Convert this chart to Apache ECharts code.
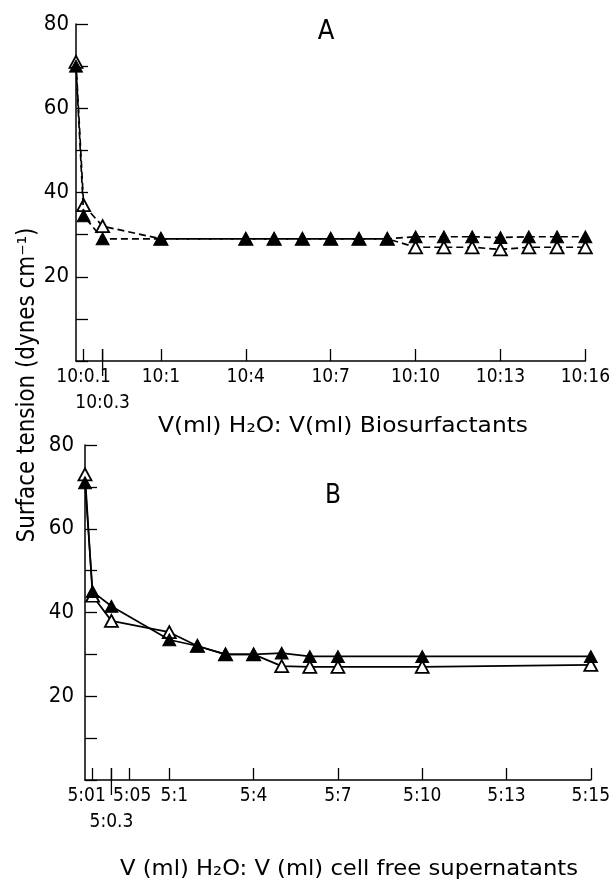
<!DOCTYPE html>
<html><head><meta charset="utf-8">
<script src="https://cdn.jsdelivr.net/npm/echarts@6/dist/echarts.min.js"></script>
<style>html,body{margin:0;padding:0;background:#fff}#c{width:613px;height:882px}</style>
</head><body><div id="c"></div>
<script>
// Panel A: water : biosurfactant (ml) — second term of the ratio
const ratiosA = [0, 0.1, 0.3, 1, 4, 5, 6, 7, 8, 9, 10, 11, 12, 13, 14, 15, 16];
const filledA = [70, 34.5, 29, 29, 29, 29, 29, 29, 29, 29, 29.5, 29.5, 29.5, 29.3, 29.5, 29.5, 29.5];
const openA   = [71, 37, 32, 29, 29, 29, 29, 29, 29, 29, 27, 27, 27, 26.5, 27, 27, 27];
const ticksA = [0.1, 0.3, 1, 4, 7, 10, 13, 16];
const tickLabelsA = ['10:0.1', '10:0.3', '10:1', '10:4', '10:7', '10:10', '10:13', '10:16'];

// Panel B: water : cell free supernatant (ml)
const ratiosB = [0, 0.1, 0.3, 1, 2, 3, 4, 5, 6, 7, 10, 16];
const filledB = [71, 45, 41.5, 33.5, 32, 30, 30, 30.3, 29.5, 29.5, 29.5, 29.5];
const openB   = [73, 44, 38, 35.3, 32, 30, 30, 27.2, 27, 27, 27, 27.5];
const ticksB = [0.1, 0.3, 0.5, 1, 4, 7, 10, 13, 16];
const tickLabelsB = ['5:01', '5:0.3', '5:05', '5:1', '5:4', '5:7', '5:10', '5:13', '5:15'];

const yLabelValues = [20, 40, 60, 80];
const lowerRowTick = 0.3;   // label printed on a second row

// broken x scale: the part below 1 is stretched
const BREAKS = [[0, -2], [0.1, -1.73], [0.3, -1.06], [0.5, -0.43], [1, 1]];
function axisPos(r) {
  if (r >= 1) return r;
  for (let i = 0; i < BREAKS.length - 1; i++) {
    const a = BREAKS[i], b = BREAKS[i + 1];
    if (r >= a[0] && r <= b[0]) return a[1] + (r - a[0]) / (b[0] - a[0]) * (b[1] - a[1]);
  }
  return BREAKS[0][1];
}

const FONT = "'Liberation Sans Narrow','DejaVu Sans Condensed','Roboto Condensed','DejaVu Sans',sans-serif";
const measure = document.createElement('canvas').getContext('2d');
function fitScale(text, size, target) {
  measure.font = size + 'px ' + FONT;
  return target / measure.measureText(text).width;
}

function labelLookup(ticks, labels) {
  const pos = ticks.map(axisPos);
  return function (v) {
    let k = 0, best = 1e9;
    pos.forEach((p, i) => { if (Math.abs(p - v) < best) { best = Math.abs(p - v); k = i; } });
    return labels[k];
  };
}
// crowded or nudged labels are drawn by their own overlaid axes so that none is culled
function xAxesFor(idx, ticks, labels, shifts) {
  const pos = ticks.map(axisPos);
  const fmt = labelLookup(ticks, labels);
  const solo = t => t < 1 || shifts[t] !== undefined;
  const groups = [{ vals: ticks.filter(t => !solo(t)), margin: 7, main: true }]
    .concat(ticks.filter(solo).map(t => ({ vals: [t], margin: t === lowerRowTick ? 33 : 7 })));
  return groups.map(g => {
    const s = g.vals.length === 1 ? (shifts[g.vals[0]] || 0) : 0;
    return {
      type: 'value', gridIndex: idx, min: -2, max: 16, position: 'bottom',
      splitLine: { show: false },
      axisLine: g.main ? { onZero: false, lineStyle: { color: '#000', width: 1.5 } } : { show: false, onZero: false },
      axisTick: g.main ? { inside: true, length: 12, lineStyle: { color: '#000', width: 1.3 }, customValues: pos } : { show: false },
      axisLabel: { customValues: g.vals.map(axisPos), margin: g.margin, color: '#000', fontFamily: FONT,
                   fontSize: 19, hideOverlap: false, formatter: fmt,
                   padding: s < 0 ? [0, -2 * s, 0, 0] : [0, 0, 0, 2 * s] }
    };
  });
}
function yAxisFor(idx, margin) {
  return {
    type: 'value', gridIndex: idx, min: 0, max: 80, interval: 10,
    axisLine: { show: true, onZero: false, lineStyle: { color: '#000', width: 1.5 } },
    axisTick: { inside: true, length: 12, lineStyle: { color: '#000', width: 1.3 } },
    splitLine: { show: false },
    axisLabel: {
      margin: margin, color: '#000', fontFamily: FONT, fontSize: 22,
      formatter: v => yLabelValues.indexOf(v) >= 0 ? String(v) : ''
    }
  };
}
function lineSeries(xIdx, yIdx, ratios, vals, filled, dashed) {
  return {
    type: 'line', xAxisIndex: xIdx, yAxisIndex: yIdx,
    data: ratios.map((r, i) => [axisPos(r), vals[i]]),
    symbol: 'triangle', symbolSize: [13, 12],
    itemStyle: filled ? { color: '#000', borderColor: '#000', borderWidth: 1 }
                      : { color: '#fff', borderColor: '#000', borderWidth: 1.8 },
    lineStyle: { color: '#000', width: 1.7, type: dashed ? [7, 4] : 'solid' },
    z: filled ? 4 : 3, animation: false
  };
}
function longTick(xIdx, yIdx) {
  return {
    type: 'custom', xAxisIndex: xIdx, yAxisIndex: yIdx, silent: true, animation: false,
    data: [[axisPos(lowerRowTick), 0]],
    renderItem: (params, api) => {
      const p = api.coord([api.value(0), api.value(1)]);
      return { type: 'line', shape: { x1: p[0], y1: p[1] - 12, x2: p[0], y2: p[1] + 15 },
               style: { stroke: '#000', lineWidth: 1.3 } };
    }
  };
}

const titleA = 'V(ml) H₂O: V(ml) Biosurfactants';
const titleB = 'V (ml) H₂O: V (ml) cell free supernatants';
const yTitle = 'Surface tension (dynes cm⁻¹)';

const xA = xAxesFor(0, ticksA, tickLabelsA, {});
const xB = xAxesFor(1, ticksB, tickLabelsB, { 0.1: -6, 0.5: 3, 1: 5 });
const xBStart = xA.length;

const chart = echarts.init(document.getElementById('c'), null, { renderer: 'canvas' });
const txt = (x, y, text, size, extra) => Object.assign({ type: 'text', x: x, y: y,
  style: { text: text, font: size + 'px ' + FONT, fill: '#000', align: 'center', verticalAlign: 'middle',
           textAlign: 'center', textVerticalAlign: 'middle' } }, extra || {});
chart.setOption({
  backgroundColor: '#fff',
  animation: false,
  grid: [
    { left: 76, right: 26, top: 24, bottom: 521 },
    { left: 85, right: 17, top: 445, bottom: 102 }
  ],
  xAxis: xA.concat(xB),
  yAxis: [yAxisFor(0, 7), yAxisFor(1, 11)],
  series: [
    lineSeries(0, 0, ratiosA, openA, false, true),
    lineSeries(0, 0, ratiosA, filledA, true, true),
    lineSeries(xBStart, 1, ratiosB, openB, false, false),
    lineSeries(xBStart, 1, ratiosB, filledB, true, false),
    longTick(0, 0), longTick(xBStart, 1)
  ],
  graphic: [
    txt(326, 32, 'A', 27),
    txt(333, 496, 'B', 26),
    txt(343, 426, titleA, 22, { scaleX: fitScale(titleA, 22, 370) }),
    txt(349, 869, titleB, 22, { scaleX: fitScale(titleB, 22, 458) }),
    txt(28, 385, yTitle, 24, { rotation: Math.PI / 2, scaleX: fitScale(yTitle, 24, 315) })
  ]
});
</script>
</body></html>
